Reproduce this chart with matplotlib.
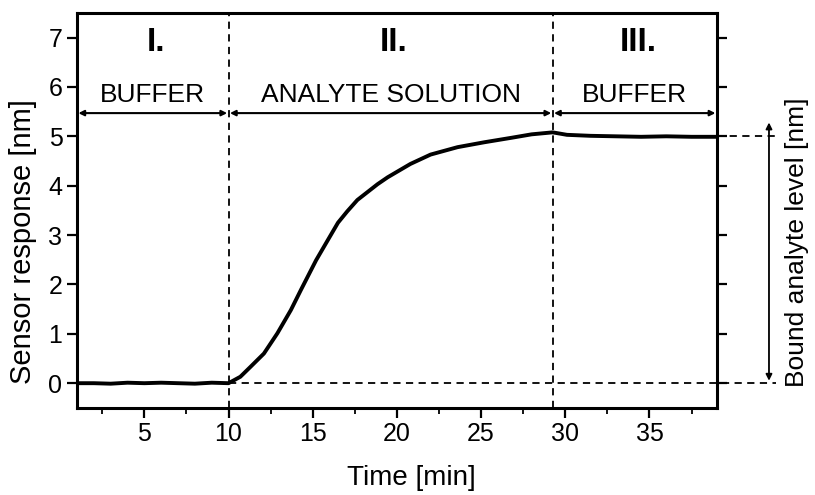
import matplotlib.pyplot as plt
import numpy as np

plt.rcParams['font.family'] = ['Liberation Sans', 'DejaVu Sans']

# sensor response
time = [1, 2, 3, 4, 5, 6, 7, 8, 9, 10, 10.7, 11.3, 12.1, 12.9, 13.7, 14.3, 14.9,
        15.2, 15.9, 16.5, 17.05, 17.65, 18.25, 18.85, 19.45, 20.1, 20.8, 22.0,
        23.6, 25.2, 26.8, 28.0, 29.25, 30.1, 31.5, 33.0, 34.5, 36.0, 37.5, 39.0]
response = [0.0, 0.0, -0.01, 0.01, 0.0, 0.01, 0.0, -0.01, 0.01, 0.0, 0.13, 0.33,
            0.6, 1.01, 1.48, 1.89, 2.29, 2.49, 2.9, 3.25, 3.48, 3.71, 3.87, 4.03,
            4.17, 4.3, 4.44, 4.63, 4.78, 4.88, 4.97, 5.04, 5.08, 5.03, 5.01, 5.0,
            4.99, 5.0, 4.99, 4.99]

t_switch = [10, 29.25]
phase_edges = [1, 10, 29.25, 39]
phase_numbers = ["I.", "II.", "III."]
phase_names = ["BUFFER", "ANALYTE SOLUTION", "BUFFER"]
bound_level = 5.0
x_right = 42.5

fig = plt.figure(figsize=(8.15, 4.95), dpi=100)
ax = fig.add_axes([0.0945, 0.176, 0.785, 0.798])

ax.plot(time, response, color='black', lw=2.8, solid_capstyle='round',
        solid_joinstyle='round')

for t in t_switch:
    ax.axvline(t, color='black', ls=(0, (4, 3)), lw=1.3)

# zero and bound level guide lines
ax.plot([10, x_right], [0, 0], color='black', ls=(0, (4, 3)), lw=1.3, clip_on=False)
ax.plot([39, x_right], [bound_level, bound_level], color='black', ls=(0, (4, 3)),
        lw=1.3, clip_on=False)
ax.annotate("", xy=(42.1, 0.05), xytext=(42.1, 5.28), annotation_clip=False,
            arrowprops=dict(arrowstyle='<|-|>', color='black', lw=1.3, mutation_scale=9,
                            shrinkA=0, shrinkB=0))

# phase arrows and labels
arrow_y = 5.47
for i in range(3):
    a, b = phase_edges[i], phase_edges[i + 1]
    ax.annotate("", xy=(b, arrow_y), xytext=(a, arrow_y), annotation_clip=False,
                arrowprops=dict(arrowstyle='<|-|>', color='black', lw=1.5, mutation_scale=8,
                                shrinkA=1, shrinkB=1))
    mid = (a + b) / 2
    ax.text(mid + 0.2, 6.9, phase_numbers[i], ha='center', va='center', fontsize=24,
            fontweight='bold')
    ax.text(mid, 5.84, phase_names[i], ha='center', va='center', fontsize=19)

ax.set_xlim(1, 39)
ax.set_ylim(-0.5, 7.5)
ax.set_xticks([5, 10, 15, 20, 25, 30, 35])
ax.set_xticks(np.arange(2.5, 39, 2.5), minor=True)
ax.set_yticks(range(0, 8))
ax.tick_params(axis='both', which='major', direction='out', length=7, width=1.6,
               labelsize=18)
ax.tick_params(axis='x', which='minor', direction='out', length=4, width=1.3)
ax.tick_params(axis='y', right=True, which='major')
for s in ax.spines.values():
    s.set_linewidth(2.2)

ax.set_xlabel("Time [min]", fontsize=20)
ax.set_ylabel("Sensor response [nm]", fontsize=21)
ax.xaxis.set_label_coords(0.522, -0.145)
ax.yaxis.set_label_coords(-0.063, 0.42)
fig.text(0.978, 0.51, "Bound analyte level [nm]", rotation=90, ha='center',
         va='center', fontsize=19)

fig.savefig("out.png", dpi=100)
